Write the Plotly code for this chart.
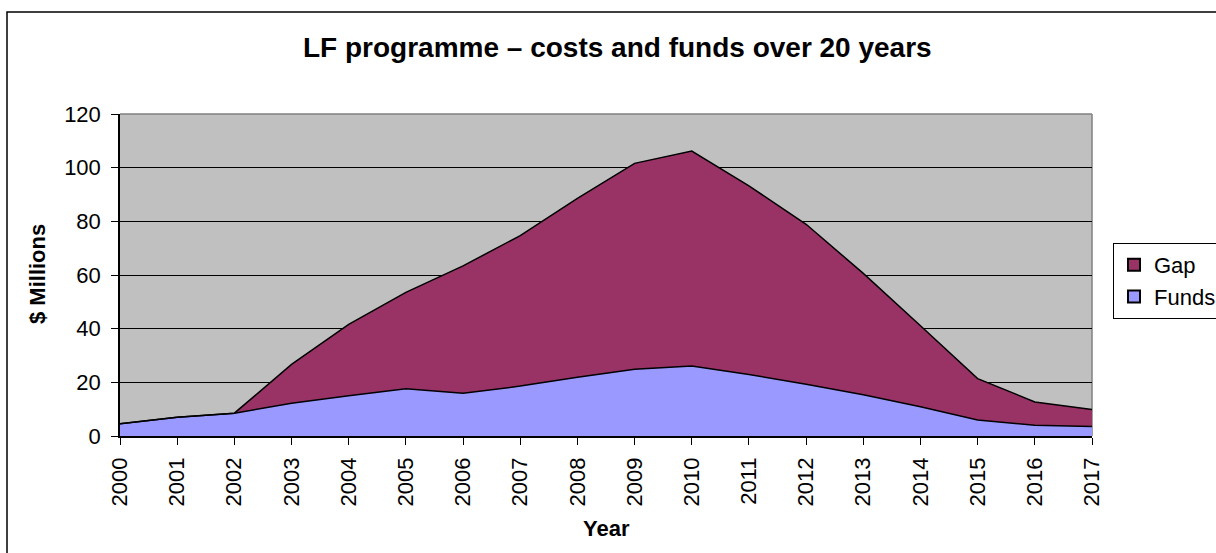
import plotly.graph_objects as go

years = [str(y) for y in range(2000, 2018)]
funds = [4.6, 7.0, 8.5, 12.2, 15.0, 17.6, 15.9, 18.6, 21.9, 24.9, 26.1, 22.9, 19.3, 15.4, 10.9, 6.0, 4.0, 3.5]
gap = [0.0, 0.0, 0.0, 14.5, 26.6, 35.9, 47.5, 56.1, 66.7, 76.7, 80.1, 70.3, 59.6, 45.2, 30.2, 15.4, 8.7, 6.4]
y_ticks = [0, 20, 40, 60, 80, 100, 120]

FONT = "Liberation Sans, Arial, sans-serif"
GAP_C = "#993366"
FUNDS_C = "#9999FF"

fig = go.Figure()
fig.add_trace(go.Scatter(x=years, y=funds, name="Funds", stackgroup="one", mode="lines",
                         line=dict(color="#000000", width=1.5), fillcolor=FUNDS_C,
                         showlegend=False))
fig.add_trace(go.Scatter(x=years, y=gap, name="Gap", stackgroup="one", mode="lines",
                         line=dict(color="#000000", width=1.5), fillcolor=GAP_C,
                         showlegend=False))
# legend-only entries with square swatches
for nm, col in [("Gap", GAP_C), ("Funds", FUNDS_C)]:
    fig.add_trace(go.Scatter(x=[None], y=[None], name=nm, mode="markers",
                             marker=dict(symbol="square", size=15, color=col,
                                         line=dict(color="black", width=1)),
                             showlegend=True))

L, R, T, B = 120, 124, 114, 117
W, H = 1216, 553
pw, ph = W - L - R, H - T - B

def px(x):
    return (x - L) / pw

def py(y):
    return (H - B - y) / ph

fig.update_layout(
    width=W, height=H,
    margin=dict(l=L, r=R, t=T, b=B, pad=0, autoexpand=False),
    paper_bgcolor="white", plot_bgcolor="#C0C0C0",
    font=dict(family=FONT, size=22, color="black"),
    showlegend=True,
    legend=dict(x=px(1113), y=py(243), xanchor="left", yanchor="top",
                traceorder="normal", bordercolor="black", borderwidth=1,
                bgcolor="white", font=dict(size=22), itemwidth=30,
                tracegroupgap=0, itemsizing="constant"),
    xaxis=dict(type="category", range=[0, 17], showgrid=False, showline=True,
               linecolor="black", linewidth=1.5, ticks="outside", ticklen=7,
               tickcolor="black", tickangle=-90, tickfont=dict(size=22),
               ticklabelstandoff=4, zeroline=False),
    yaxis=dict(range=[0, 120], tickvals=y_ticks, showgrid=True, gridcolor="black",
               gridwidth=1, showline=True, linecolor="black", linewidth=1.5,
               ticks="outside", ticklen=7, tickcolor="black", tickfont=dict(size=22),
               ticklabelstandoff=6, zeroline=False),
    annotations=[
        dict(text="<b>LF programme – costs and funds over 20 years</b>", xref="paper", yref="paper",
             x=px(617), y=py(48), xanchor="center", yanchor="middle", showarrow=False,
             font=dict(size=28)),
        dict(text="<b>$ Millions</b>", xref="paper", yref="paper", x=px(37), y=py(274),
             xanchor="center", yanchor="middle", textangle=-90, showarrow=False,
             font=dict(size=22)),
        dict(text="<b>Year</b>", xref="paper", yref="paper", x=px(606), y=py(528),
             xanchor="center", yanchor="middle", showarrow=False, font=dict(size=22)),
    ],
    shapes=[
        dict(type="line", xref="x domain", yref="y domain", x0=0, x1=1, y0=1, y1=1,
             line=dict(color="#808080", width=1.5), layer="above"),
        dict(type="line", xref="x domain", yref="y domain", x0=1, x1=1, y0=0, y1=1,
             line=dict(color="#808080", width=1.5), layer="below"),
        dict(type="rect", xref="paper", yref="paper", x0=px(7), x1=px(1230),
             y0=py(570), y1=py(12), line=dict(color="black", width=1.5),
             fillcolor="rgba(0,0,0,0)", layer="below"),
    ],
)

fig.write_html("out.html")
